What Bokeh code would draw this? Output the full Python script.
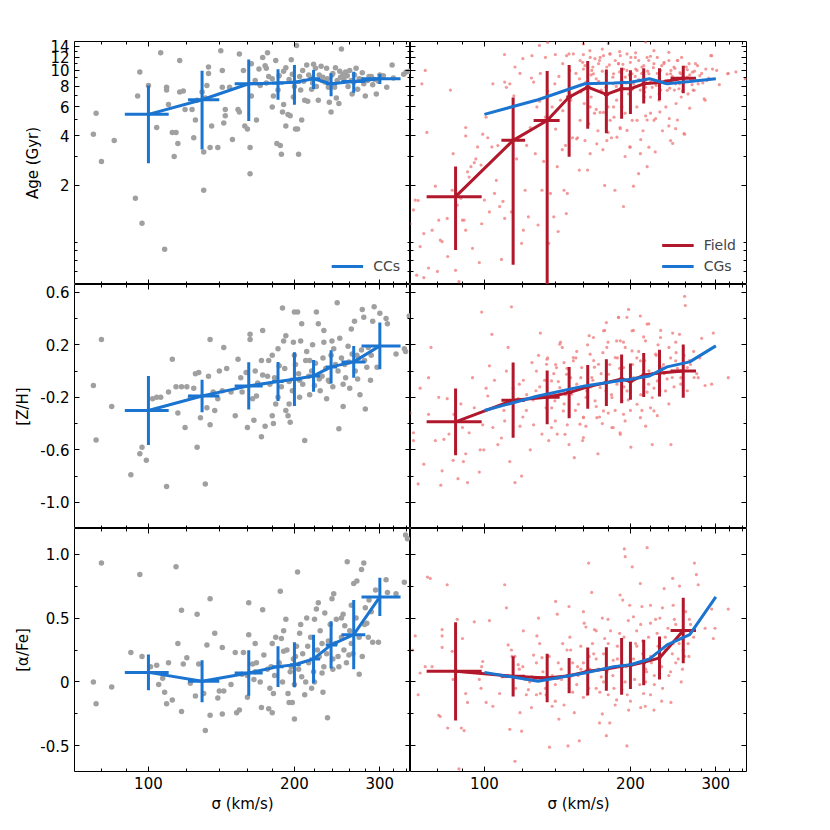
from bokeh.plotting import figure
from bokeh.models import (Range1d, FixedTicker, CustomJSTickFormatter, LinearAxis, LogAxis)
from bokeh.layouts import column, row
from bokeh.embed import file_html
from bokeh.resources import INLINE

FONT = "DejaVu Sans"
BLUE = "#1a74d0"
RED = "#b2182b"
GREY = "#a0a0a0"
PINK = "#f08080"

# ---------------- axes / ticks ----------------
X_RANGE = (70.4, 347)
X_MAJOR = [100, 200, 300]
X_MINOR = [80, 90, 120, 140, 160, 180, 220, 240, 260, 280, 320, 340]
AGE_RANGE = (0.5, 15)
AGE_MAJOR = [2, 4, 6, 8, 10, 12, 14]
AGE_MINOR = [0.6, 0.7, 0.8, 0.9, 3, 5, 7, 9, 11, 13]
ZH_RANGE = (-1.2, 0.66)
ZH_MAJOR = [-1.0, -0.6, -0.2, 0.2, 0.6]
ZH_MINOR = [-0.8, -0.4, 0.0, 0.4]
AF_RANGE = (-0.7, 1.2)
AF_MAJOR = [-0.5, 0.0, 0.5, 1.0]
AF_MINOR = [-0.25, 0.25, 0.75]

# ---------------- binned means: CCs / CGs ----------------
cc_sig = [100, 129, 161, 185, 200, 219, 238, 265, 300]
cc_sig_lo = [89.4, 120.7, 150.6, 180, 196, 215, 232, 250, 275]
cc_sig_hi = [110.1, 140, 172, 190, 206, 226, 245, 280, 331]
cc_age = [5.41, 6.64, 8.3, 8.4, 8.49, 8.9, 8.3, 8.57, 8.9]
cc_age_err = [2.68, 3.33, 3.37, 1.76, 2.3, 1.18, 1.33, 1.24, 0.63]
cc_zh = [-0.30, -0.19, -0.113, -0.08, -0.062, -0.037, 0.032, 0.07, 0.192]
cc_zh_err = [0.263, 0.124, 0.18, 0.149, 0.205, 0.121, 0.127, 0.121, 0.178]
cc_af = [0.075, 0.005, 0.07, 0.12, 0.135, 0.18, 0.29, 0.37, 0.665]
cc_af_err = [0.14, 0.164, 0.178, 0.16, 0.176, 0.19, 0.185, 0.27, 0.15]

# ---------------- binned means: Field ----------------
fd_sig = [87.2, 114.6, 134.7, 149.5, 163.3, 178.4, 191.8, 200, 213, 229.6, 257]
fd_sig_lo = [76, 108.4, 126.3, 147.5, 161.3, 176.4, 189.8, 198, 211, 227.5, 242]
fd_sig_hi = [98.7, 121.3, 142.9, 151.5, 165.3, 180.4, 193.8, 202, 215, 231.5, 273]
fd_age = [1.71, 3.76, 4.97, 6.89, 7.92, 7.15, 7.74, 7.74, 8.3, 8.45, 8.98]
fd_age_err = [0.9, 3.1, 4.95, 3.9, 3.5, 3.0, 2.65, 2.3, 2.0, 1.86, 1.71]
fd_zh = [-0.387, -0.222, -0.2, -0.164, -0.12, -0.088, -0.06, -0.08, -0.03, -0.015, 0.0]
fd_zh_err = [0.254, 0.287, 0.205, 0.196, 0.167, 0.179, 0.186, 0.138, 0.168, 0.178, 0.203]
fd_af = [0.083, 0.044, 0.031, 0.049, 0.083, 0.102, 0.122, 0.13, 0.153, 0.188, 0.403]
fd_af_err = [0.384, 0.158, 0.19, 0.138, 0.186, 0.17, 0.222, 0.185, 0.178, 0.168, 0.256]

# ---------------- individual galaxies: CCs (sigma, value) ----------------
cc_age_pts = [
    (77, 4.1), (78, 5.5), (80, 2.8), (85, 3.75), (94, 1.67), (97, 1.18), (96, 9.8), (95, 7.0), (100, 8.1),
    (104, 4.5), (106, 12.8), (108, 0.82), (109, 7.9), (109, 7.6), (110, 6.2), (112, 4.2), (113, 3.0), (114, 4.2),
    (115, 3.6), (116, 11.5), (116, 7.4), (118, 7.5), (119, 5.8), (123, 5.8), (124, 3.9), (125, 5.0), (126, 6.6),
    (129, 7.4), (130, 3.2), (130, 1.87), (131, 6.8), (132, 8.1), (133, 9.6), (133, 10.5), (134, 3.4), (135, 4.6),
    (139, 3.4), (141, 13.2), (142, 10.0), (142, 7.9), (143, 4.8), (144, 5.8), (144, 5.3), (147, 7.9), (149, 3.8),
    (153, 5.8), (154, 12.6), (154, 5.6), (157, 10.0), (158, 4.6), (160, 4.4), (162, 3.4), (162, 2.36), (163, 11.0),
    (163, 7.0), (166, 8.7), (167, 5.0), (169, 10.2), (172, 12.0), (174, 10.7), (175, 10.3), (176, 12.8), (177, 9.2),
    (180, 6.0), (181, 7.0), (183, 11.5), (184, 3.6), (185, 7.6), (187, 3.5), (188, 3.1), (189, 5.6), (190, 6.2),
    (192, 4.6), (192, 10.4), (194, 5.4), (196, 5.3), (197, 11.6), (199, 6.9), (201, 4.4), (202, 14.2), (203, 4.4),
    (204, 3.1), (206, 7.6), (207, 5.0), (210, 6.6), (212, 10.8), (213, 6.5), (216, 9.0), (217, 7.7), (219, 10.9),
    (221, 10.3), (222, 8.0), (224, 6.6), (228, 8.7), (231, 8.5), (233, 10.3), (235, 7.9), (236, 6.4), (238, 5.6),
    (240, 9.6), (242, 7.9), (244, 6.8), (247, 6.3), (249, 9.1), (250, 13.5), (252, 9.5), (255, 9.8), (258, 8.0),
    (263, 7.2), (268, 10.3), (270, 7.7), (275, 8.8), (278, 8.3), (280, 7.0), (283, 8.7), (285, 9.2), (290, 8.2),
    (295, 7.2), (300, 9.4), (310, 7.9), (318, 10.8), (336, 9.5), (340, 9.8), (345, 9.9),
    (186, 9.3), (190, 9.9), (195, 8.8), (198, 9.5), (205, 9.2), (209, 8.6), (214, 9.4), (218, 8.4), (225, 9.4),
    (229, 9.1), (234, 8.9), (239, 9.4), (245, 8.7), (248, 9.9), (253, 8.9), (257, 9.3), (262, 8.7), (266, 9.4),
    (272, 8.9), (276, 9.7), (288, 9.2), (293, 8.8), (180, 8.9), (175, 8.4), (170, 8.1), (200, 8.0), (208, 10.0),
    (227, 10.6), (243, 10.4), (260, 10.0), (265, 8.5), (298, 8.6), (305, 9.3), (320, 9.0),
]
cc_zh_pts = [
    (77, -0.11), (80, 0.24), (78, -0.525), (84, -0.27), (92, -0.79), (96, -0.63), (97, -0.58), (99, -0.68),
    (102, -0.21), (104, -0.2), (106, -0.2), (109, -0.88), (110, -0.16), (112, 0.09), (114, -0.12), (115, -0.32),
    (117, -0.12), (119, -0.43), (120, -0.12), (122, -0.2), (124, -0.13), (125, -0.02), (126, -0.58), (127, -0.01),
    (128, -0.355), (131, -0.86), (132, -0.28), (133, -0.04), (134, 0.24), (134, -0.41), (136, -0.16), (137, -0.3),
    (139, -0.21), (140, 0.0), (142, -0.15), (143, 0.18), (145, 0.02), (148, -0.16), (151, -0.34), (153, 0.09),
    (155, -0.05), (156, -0.16), (159, -0.01), (160, -0.43), (162, 0.28), (162, 0.24), (164, -0.21), (165, -0.375),
    (166, 0.0), (167, -0.19), (171, 0.08), (171, -0.5), (172, 0.31), (174, -0.42), (176, -0.04), (177, 0.08),
    (180, -0.34), (181, -0.4), (183, -0.25), (185, 0.17), (186, 0.04), (189, 0.48), (190, 0.23), (192, 0.27),
    (192, -0.3), (194, -0.34), (196, -0.39), (199, 0.22), (200, 0.45), (203, 0.45), (205, -0.07), (206, 0.23),
    (207, 0.36), (210, -0.53), (212, 0.15), (215, 0.08), (220, -0.11), (222, 0.45), (224, 0.36), (228, -0.04),
    (230, 0.31), (233, -0.21), (235, -0.07), (239, 0.23), (241, 0.17), (245, 0.52), (247, -0.44), (252, -0.27),
    (254, 0.05), (258, 0.19), (260, -0.13), (262, 0.32), (266, 0.38), (269, 0.12), (273, -0.18), (276, 0.47),
    (278, 0.41), (280, -0.29), (282, 0.03), (287, -0.07), (290, 0.38), (292, 0.49), (296, 0.03), (300, 0.44),
    (309, 0.4), (311, 0.36), (324, 0.13), (337, 0.17), (339, 0.15), (345, 0.42),
    (182, -0.05), (188, -0.12), (191, 0.02), (195, -0.08), (198, -0.15), (201, 0.05), (204, -0.02), (208, -0.1),
    (211, 0.08), (214, -0.04), (217, 0.0), (221, 0.06), (225, -0.06), (229, 0.1), (232, 0.02), (236, -0.08),
    (238, 0.12), (243, 0.05), (246, 0.0), (250, 0.1), (255, -0.05), (259, 0.07), (263, 0.13), (267, 0.0),
    (271, 0.1), (275, 0.16), (279, 0.08), (284, 0.18), (288, 0.12), (178, -0.1), (172, -0.03), (168, -0.09),
    (185, -0.2), (195, -0.25), (205, -0.2), (215, -0.18), (226, -0.15), (240, -0.12), (252, -0.1), (270, -0.06),
    (180, 0.12), (200, 0.12), (218, 0.2), (230, 0.22), (248, 0.25),
]
cc_af_pts = [
    (77, 0.0), (78, -0.17), (80, 0.93), (84, -0.04), (92, 0.23), (96, 0.84), (97, 0.2), (101, 0.12), (104, 0.13),
    (105, -0.02), (107, 0.03), (108, -0.08), (109, -0.17), (110, 0.15), (112, -0.14), (114, 0.9), (115, 0.3),
    (117, -0.23), (117, 0.56), (118, 0.14), (120, 0.19), (122, -0.01), (125, -0.11), (126, 0.53), (127, 0.14),
    (130, -0.09), (131, -0.38), (132, 0.29), (134, -0.26), (134, 0.65), (137, 0.38), (139, -0.125), (140, -0.07),
    (142, -0.25), (142, 0.27), (143, -0.07), (148, -0.02), (151, 0.23), (152, -0.24), (154, -0.22), (156, 0.06),
    (157, 0.23), (160, -0.12), (161, 0.62), (161, 0.37), (164, 0.14), (165, 0.02), (166, 0.3), (167, 0.15),
    (171, -0.2), (172, 0.565), (173, 0.21), (177, -0.21), (179, 0.12), (180, -0.24), (181, -0.09), (183, 0.35),
    (187, 0.71), (188, 0.34), (190, 0.24), (192, 0.49), (194, -0.09), (195, -0.16), (197, 0.12), (198, -0.16),
    (200, -0.29), (201, 0.2), (203, 0.86), (205, 0.38), (207, 0.04), (210, -0.1), (212, 0.5), (213, 0.28),
    (217, -0.05), (220, 0.49), (222, 0.57), (224, 0.62), (225, 0.2), (228, 0.07), (229, -0.08), (231, 0.54),
    (234, -0.28), (235, 0.32), (239, 0.65), (241, 0.69), (244, 0.49), (247, 0.12), (252, 0.53), (254, 0.44),
    (257, 0.94), (259, 0.21), (262, 0.3), (265, 0.77), (269, 0.79), (272, 0.06), (275, 0.88), (278, 0.93),
    (280, 0.58), (282, 0.46), (285, 0.64), (290, 0.31), (294, 0.72), (298, 0.31), (309, 0.8), (311, 0.7),
    (324, 0.69), (337, 0.78), (339, 1.15), (342, 1.12),
    (182, 0.05), (186, 0.15), (189, 0.0), (193, 0.25), (196, 0.08), (199, 0.18), (202, 0.28), (204, 0.1),
    (208, 0.22), (211, 0.0), (214, 0.15), (216, 0.35), (219, 0.08), (223, 0.25), (226, 0.4), (230, 0.12),
    (233, 0.22), (237, 0.45), (240, 0.18), (243, 0.3), (246, 0.2), (250, 0.35), (253, 0.25), (256, 0.15),
    (260, 0.4), (264, 0.22), (268, 0.5), (272, 0.35), (276, 0.2), (279, 0.45), (284, 0.35), (288, 0.55),
    (176, 0.1), (170, 0.0), (166, 0.08), (160, 0.05), (180, 0.3), (190, 0.4), (206, 0.45), (228, 0.3),
    (250, 0.5), (262, 0.6), (178, -0.05), (200, -0.02), (220, 0.0), (240, 0.1),
]

# ---------------- individual galaxies: Field (sigma, value) ----------------
fd_age_pts = [
    (70.3, 1.17), (71.4, 1.42), (72, 1.63), (73, 1.62), (73.7, 0.85), (74.3, 8.3), (75, 1.02), (75.5, 10.0),
    (76.1, 4.2), (76.7, 0.63), (78, 1.07), (79.2, 1.98), (80.5, 1.23), (81.1, 0.93), (81.8, 0.91), (83.8, 1.26),
    (84, 0.74), (85.1, 7.6), (85.8, 1.87), (86.2, 3.12), (87.2, 0.61), (87.9, 1.52), (88.6, 0.52), (89.4, 1.67),
    (90.1, 1.23), (90.8, 1.23), (91.5, 4.5), (91.5, 4.0), (91.5, 1.07), (92.3, 2.42), (93, 2.25), (93.8, 2.6),
    (94.5, 0.83), (95.3, 2.75), (96, 2.9), (96.8, 3.43), (97.6, 0.68), (98.4, 2.66), (98.7, 1.17), (99.2, 4.1),
    (100, 1.63), (72.5, 0.57), (75, 0.55), (80, 0.6),
    (100.8, 5.2), (101.6, 3.9), (102.4, 1.38), (103.6, 3.43), (104.1, 8.3), (104.9, 1.79), (105.8, 2.15),
    (106.6, 3.5), (107.5, 1.49), (108.4, 0.71), (109.2, 1.6), (110.1, 1.26), (110.1, 8.5), (111, 7.9),
    (111.9, 3.5), (112.8, 8.3), (113.7, 1.38), (115.6, 10.5), (116.5, 2.9), (117.4, 3.76), (118.4, 9.6),
    (119.3, 0.89), (120.3, 1.07), (121.3, 1.87), (122.2, 3.5), (123.2, 1.29), (124.3, 4.5), (125.3, 12.3),
    (126.3, 8.5), (127.3, 3.12), (128.3, 6.0), (129, 1.15), (129.8, 14.2), (130.4, 9.6), (131.4, 1.87),
    (132.5, 2.8), (133.6, 12.0), (133.6, 5.2), (135.7, 0.89), (136.8, 1.79), (137.9, 6.0), (139, 1.29),
    (139.7, 8.3), (140.2, 4.4), (141.3, 2.6), (141.9, 1.05), (142.4, 9.2), (143.5, 6.6), (144.7, 3.3),
    (145.1, 5.7), (145.9, 1.87), (147, 3.5), (147.5, 1.35), (148.2, 1.79), (149.4, 12.6), (150.6, 6.6),
    (151.9, 3.9),
    (154.4, 9.6), (155.6, 3.9), (156.9, 2.48), (158.1, 7.4), (159.4, 11.2), (160.6, 6.3), (161.9, 8.5),
    (163.2, 2.48), (164, 4.75), (165, 13.2), (166, 6.9), (167.3, 10.5), (168.6, 5.5), (170, 8.9), (171.4, 4.3),
    (172.7, 11.5), (174.1, 7.6), (175.5, 3.3), (177, 2.0), (178.4, 9.6), (179.8, 6.0), (181.3, 12.6),
    (182.8, 3.9), (184.3, 8.3), (185.8, 1.87), (187.3, 6.6), (188.9, 11.0), (190.4, 4.5), (192, 8.7),
    (193.5, 1.49), (195.1, 5.5), (196.7, 10.0), (198.3, 7.2), (199.3, 3.43), (200.4, 12.0), (201.7, 4.98),
    (202.9, 1.98), (204.6, 9.2), (206.2, 6.0), (207.9, 2.36), (209.6, 7.6), (211.2, 10.5), (212.3, 4.3),
    (213.6, 6.9), (215, 8.7), (216.5, 2.6), (218.2, 11.5), (220, 5.5), (221.8, 7.9), (223.6, 13.2),
    (225.4, 5.1), (227.2, 9.6), (229, 6.6), (230.9, 7.6), (232.8, 4.3), (234.7, 11.2), (236.6, 6.0),
    (238.5, 8.7), (240.5, 5.1), (242.4, 10.0), (244.4, 3.6), (246.4, 7.6), (248.4, 6.3), (250.4, 11.5),
    (252.5, 8.3), (254.5, 6.9), (256.6, 9.2), (258.7, 4.1), (260.8, 10.5), (262.9, 7.2), (266.3, 8.9),
    (269.3, 7.6), (272.4, 11.0), (275.9, 8.3), (280.5, 9.6), (285.1, 6.6), (287.5, 8.7), (294.1, 12.3),
    (301.2, 10.0), (318.2, 9.6),
    (157, 8.9), (160, 10.2), (163, 7.8), (166, 9.4), (169, 11.8), (172, 8.6), (175, 9.9), (178, 7.9),
    (181, 10.8), (184, 9.1), (187, 8.0), (190, 9.8), (193, 10.9), (196, 8.4), (199, 9.4), (202, 7.7),
    (205, 10.2), (208, 8.8), (211, 9.6), (214, 7.4), (217, 9.9), (220, 8.5), (223, 10.4), (226, 8.1),
    (229, 9.1), (232, 10.7), (235, 8.4), (238, 9.5), (241, 7.8), (244, 9.2), (247, 10.3), (250, 8.8),
    (253, 9.7), (256, 7.5), (259, 8.9), (262, 10.1), (265, 9.4), (268, 8.2), (271, 9.9), (274, 8.7),
    (278, 9.3), (282, 8.4), (286, 10.2), (290, 9.0), (160, 12.5), (175, 13.5), (190, 13.0), (205, 12.8),
    (220, 12.2), (240, 12.9), (255, 12.0), (170, 5.8), (185, 5.2), (200, 5.9), (215, 5.3), (230, 5.6),
    (250, 5.0), (265, 5.9), (180, 4.2), (210, 3.8), (240, 4.6), (225, 3.2), (195, 3.0), (150, 10.0),
    (145, 11.0), (140, 12.5), (135, 7.5), (130, 6.5), (125, 9.0), (120, 11.8), (115, 7.0), (110, 12.5),
    (150, 7.2), (305, 8.2), (330, 9.8), (345, 8.9), (135, 14.8), (180, 14.6), (215, 14.9), (160, 14.5),
]
fd_age_pts_dense = [
    (147.7, 12.3), (152.5, 12.6), (157.5, 11.5), (161.2, 10.7), (165.2, 12.0), (166.5, 10.0), (167.8, 9.55),
    (171.9, 11.0), (173.2, 12.0), (176, 12.3), (178.8, 10.5), (181.7, 12.6), (184.6, 9.55), (186.1, 11.5),
    (189.1, 11.0), (190.6, 12.3), (193.6, 10.2), (195.2, 9.1), (196.8, 12.6), (199.9, 11.2), (201.5, 9.55),
    (203.1, 8.3), (204.7, 12.0), (206.4, 10.0), (208, 11.5), (209.7, 8.69), (213.1, 10.7), (214.8, 7.92),
    (216.5, 12.0), (218.3, 9.55), (220, 6.89), (223.6, 11.0), (225.4, 8.3), (227.2, 12.0), (229, 7.22),
    (230.7, 10.0), (234.4, 11.0), (236.3, 8.69), (238.2, 7.57), (240.1, 11.5), (242, 9.55), (245.9, 10.5),
    (247.9, 8.3), (249.8, 11.5), (251.8, 7.74), (253.9, 9.55), (257.9, 10.5), (262.1, 9.1), (264.2, 11.0),
    (268.5, 9.76), (270.6, 7.57), (275, 10.7), (283.8, 6.73), (292.9, 12.3), (295.3, 10.2), (317.3, 9.55),
    (157.5, 4.98), (165.2, 6.0), (173.2, 5.56), (181.7, 4.98), (190.6, 4.43), (196.8, 4.32), (206.4, 4.98),
    (216.5, 5.0), (223.6, 4.98), (170.5, 3.58), (178.8, 3.75), (187.6, 3.93), (199.9, 3.42), (209.7, 3.12),
    (218.3, 3.42), (242, 3.75), (247.9, 4.43), (257.9, 4.13), (154.9, 3.84), (161.2, 3.75), (165.2, 3.12),
    (176, 5.56), (184.6, 6.0), (192.1, 6.0),
]
fd_zh_pts = [
    (70.3, -0.32), (71.4, -0.47), (71.4, -0.53), (73, -0.86), (73.7, -0.13), (75, -0.71), (76.7, -0.05),
    (76.7, -0.33), (77.6, 0.18), (79.2, -0.53), (80.5, -0.2), (81.3, -0.87), (81.8, -0.76), (82.5, -0.52),
    (83.8, -0.21), (84.5, -0.48), (86.2, -0.68), (86.5, -0.33), (88.2, -0.82), (89.4, -0.25), (90.1, -0.43),
    (90.5, -0.69), (91.5, -0.63), (92.3, -0.85), (93, -0.47), (94.5, -0.05), (95.3, -0.28), (97.6, -0.77),
    (98, -0.6), (98.7, 0.45), (99.2, -0.41), (99.7, -0.6),
    (100.8, -0.13), (101.6, -0.19), (102.4, 0.04), (103.6, 0.28), (104.1, -0.43), (104.9, -0.07),
    (106.6, -0.56), (108.4, -0.51), (109.7, -0.3), (110.1, -0.38), (111, 0.0), (111.9, 0.18), (112.8, -0.69),
    (113.7, 0.49), (114.6, -0.13), (115.6, -0.85), (117.4, -0.21), (118.4, -0.42), (119.3, -0.8),
    (120.3, -0.07), (122.2, -0.18), (124.3, -0.6), (125.3, 0.065), (126.3, -0.41), (127.7, -0.15),
    (129.3, 0.12), (130.4, 0.29), (131.4, -0.48), (133.1, -0.07), (134.6, 0.09), (135.7, -0.53),
    (137.6, -0.28), (139, -0.02), (140.2, 0.05), (141.3, -0.48), (143.5, 0.22), (144.7, 0.18), (145.9, 0.065),
    (147, -0.18), (148.2, -0.41), (149.4, -0.56), (150.6, -0.05), (153.2, -0.66), (154.4, 0.1), (156.9, -0.13),
    (159.4, -0.53), (161.9, -0.42), (163.2, 0.2), (164.4, 0.27), (167.3, -0.07), (168.6, 0.03), (171.4, -0.63),
    (172.7, -0.35), (175.5, 0.14), (177, 0.31), (178.4, 0.37), (179.8, 0.22), (181.3, 0.05), (182.8, -0.18),
    (184.3, -0.43), (187.3, 0.23), (188.9, 0.41), (190.4, -0.47), (193.5, 0.22), (195.1, 0.18), (196.7, 0.41),
    (198.3, 0.47), (200.4, -0.58), (202.9, 0.31), (206.2, 0.1), (209.6, 0.42), (211.2, -0.3), (212.9, 0.26),
    (216.5, -0.16), (218.2, 0.36), (221.8, -0.56), (223.6, -0.13), (227.2, -0.34), (230.9, 0.31),
    (234.7, -0.02), (242.4, -0.56), (244.4, 0.29), (248.4, 0.14), (252.5, 0.28), (258.7, 0.57), (259.5, 0.5),
    (264.6, 0.08), (275.9, -0.05), (280.5, 0.25), (285.1, -0.11), (294.1, -0.1), (296.4, 0.29), (318.2, -0.05),
    (112, -0.25), (118, -0.1), (122, -0.3), (126, -0.22), (130, -0.12), (134, -0.28), (138, -0.18), (142, -0.08),
    (146, -0.25), (150, -0.15), (154, -0.3), (158, -0.05), (162, -0.2), (166, -0.12), (170, -0.27), (174, -0.02),
    (178, -0.15), (182, -0.08), (186, -0.3), (190, 0.02), (194, -0.12), (198, -0.22), (202, 0.05), (206, -0.05),
    (210, -0.18), (214, 0.08), (218, -0.1), (222, -0.02), (226, 0.12), (230, -0.15), (234, 0.05), (238, -0.06),
    (242, 0.1), (246, -0.12), (250, 0.02), (254, -0.05), (258, 0.12), (262, -0.15), (266, 0.05), (270, 0.15),
    (274, -0.02), (278, 0.1), (120, -0.35), (140, -0.38), (160, -0.35), (180, -0.32), (200, -0.3), (220, -0.28),
    (240, -0.25), (128, 0.0), (148, 0.02), (168, 0.08), (188, 0.1), (208, 0.15), (228, 0.2), (248, 0.22),
    (175, -0.4), (195, -0.38), (215, -0.42), (155, 0.15), (135, 0.1),
]
fd_zh_pts_dense = [
    (134.3, 0.052), (137.5, -0.075), (139.7, -0.227), (140.8, 0.027), (143, -0.126), (145.4, -0.304),
    (147.7, -0.024), (151.3, -0.176), (152.5, 0.078), (155, -0.1), (156.2, -0.253), (158.7, 0.027),
    (160, -0.355), (162.5, -0.151), (165.2, 0.129), (166.5, -0.049), (169.1, -0.227), (171.9, 0.052),
    (173.2, -0.126), (176, -0.304), (178.8, 0.18), (180.3, -0.024), (183.2, -0.202), (186.1, 0.103),
    (187.6, -0.1), (190.6, 0.231), (192.1, -0.227), (193.6, 0.027), (196.8, -0.151), (201.5, 0.154),
    (203.1, -0.049), (206.4, -0.253), (209.7, 0.078), (213.1, -0.126), (214.8, 0.231), (218.3, 0.002),
    (221.8, -0.202), (225.4, 0.129), (227.2, -0.075), (232.6, 0.027), (236.3, -0.151), (240.1, 0.18),
    (243.9, -0.049), (247.9, 0.078), (253.9, -0.1), (262.1, 0.027), (270.6, -0.049), (137.5, -0.431),
    (146.6, -0.482), (157.4, -0.405), (170.5, -0.355), (183.2, -0.431), (193.6, -0.329), (209.7, -0.355),
    (223.6, -0.304), (160, -0.507), (190.6, -0.482), (201.5, 0.307), (216.5, 0.358), (189.1, 0.409),
    (176, 0.307), (167.8, 0.256), (143, 0.205), (152.5, 0.103), (230.7, 0.256),
]
fd_af_pts = [
    (71.1, 0.25), (72, 0.36), (73, -0.1), (73.7, 0.07), (75.5, 0.12), (76.3, 0.82), (77.3, 0.81), (78, 0.12),
    (80.5, -0.26), (81.1, -0.27), (81.8, 0.41), (81.8, 0.36), (81.8, 0.27), (83.8, 0.76), (84, -0.36),
    (85.8, 0.24), (86.2, 0.02), (87.9, 0.49), (88.6, -0.68), (89.6, -0.36), (90.1, 0.34), (90.8, -0.38),
    (91.5, -0.09), (92.3, -0.16), (95.3, 0.47), (97.6, 0.02), (98.4, -0.05), (98.7, 0.12), (99.2, 0.16),
    (100.8, -0.16), (102.4, 0.48), (104.1, -0.19), (105.8, 0.06), (107.5, -0.09), (108.7, 0.04), (110.1, 0.76),
    (111, 0.58), (111.9, 0.29), (112.8, -0.37), (113.7, 0.25), (115.6, 0.2), (117.4, 0.135), (118.4, -0.24),
    (119.3, -0.385), (120.3, 0.4), (121.3, 0.02), (123.2, -0.06), (125.3, 0.04), (126.3, 0.21), (128.3, 0.36),
    (129.3, 0.5), (130.4, -0.09), (131.4, 0.19), (133.6, -0.05), (136.2, -0.51), (137.9, -0.19), (140.2, 0.63),
    (141.3, 0.53), (142.4, -0.29), (144.2, 0.02), (145.9, -0.18), (148.7, -0.5), (149.4, 0.59), (150.6, 0.25),
    (153.2, -0.24), (155.6, 0.12), (156.9, -0.46), (158.1, 0.1), (160.6, 0.46), (161.9, 0.43), (164, 0.93),
    (164.4, 0.2), (166.4, 0.7), (168.6, 0.41), (170, -0.05), (172.7, -0.32), (174.1, 0.04), (177, 0.34),
    (178.4, -0.42), (179.8, 0.49), (181.3, -0.32), (184.3, 0.17), (187.3, -0.14), (190.4, 0.68), (192.8, 0.64),
    (194.3, 1.04), (195.1, 0.98), (196.7, -0.5), (198.3, -0.22), (199.3, 0.6), (201.7, 0.9), (202.9, 0.51),
    (206.2, 0.28), (209.6, 0.77), (211.2, 0.59), (212.9, -0.09), (214.6, -0.19), (216.5, 1.05), (220, 0.46),
    (223.6, -0.22), (225.4, 0.49), (232.8, 0.58), (234.7, 0.73), (242.4, -0.16), (244.4, 0.81), (246.4, 0.49),
    (252.5, 0.75), (254.5, 0.0), (258.7, 0.2), (264.6, 0.49), (271, 0.93), (273.5, 0.84), (275.9, 0.76),
    (285.1, 0.42), (294.1, 0.57), (296.4, 0.34), (298.8, 0.42), (318.2, 0.57), (115.6, -0.62),
    (112, 0.05), (116, -0.05), (120, 0.12), (124, 0.0), (128, -0.1), (132, 0.08), (136, 0.2), (140, -0.02),
    (144, 0.1), (148, 0.25), (152, -0.08), (156, 0.05), (160, 0.15), (164, -0.05), (168, 0.22), (172, 0.1),
    (176, 0.0), (180, 0.3), (184, 0.05), (188, 0.18), (192, -0.06), (196, 0.12), (200, 0.25), (204, 0.02),
    (208, 0.15), (212, 0.32), (216, 0.08), (220, 0.2), (224, -0.02), (228, 0.28), (232, 0.12), (236, 0.35),
    (240, 0.05), (244, 0.22), (248, 0.15), (252, 0.3), (256, 0.1), (260, 0.4), (264, 0.2), (150, 0.35),
    (170, 0.4), (190, 0.38), (210, 0.45), (230, 0.5), (130, 0.3), (140, -0.15), (160, -0.12), (180, -0.1),
    (200, -0.15), (220, -0.1), (125, -0.2), (175, -0.25), (195, 0.0), (215, 0.0), (185, 0.12), (205, 0.3),
    (165, 0.1),
]
fd_af_pts_dense = [
    (152, 0.15), (155, -0.02), (158, 0.28), (161, 0.08), (163, -0.1), (167, 0.3), (170, 0.18), (173, -0.08),
    (176, 0.22), (179, 0.08), (182, 0.4), (185, -0.05), (188, 0.28), (191, 0.12), (194, 0.35), (197, -0.1),
    (200, 0.05), (203, 0.18), (206, 0.4), (209, -0.02), (212, 0.22), (215, 0.1), (218, 0.35), (221, 0.15),
    (224, 0.05), (227, 0.38), (230, 0.2), (233, -0.05), (236, 0.25), (239, 0.42), (242, 0.08), (245, 0.3),
    (248, 0.45), (251, 0.18), (254, 0.38), (257, 0.25), (260, 0.55), (263, 0.3), (266, 0.45), (270, 0.35),
    (145, 0.3), (142, 0.15), (138, 0.05), (134, -0.1), (128, 0.15), (122, -0.1), (118, 0.1), (114, 0.2),
    (186, -0.18), (210, -0.2), (232, -0.15), (198, 0.48), (175, 0.5), (160, 0.55), (220, 0.6), (245, 0.6),
]

FMT_INT = CustomJSTickFormatter(code="return tick.toFixed(0);")
FMT_1 = CustomJSTickFormatter(code="return tick.toFixed(1);")
FMT_AF = CustomJSTickFormatter(code="return Math.abs(tick) < 1e-9 ? '0' : tick.toFixed(1);")

PANELS = {
    "age": dict(rng=AGE_RANGE, log=True, major=AGE_MAJOR, minor=AGE_MINOR, fmt=FMT_INT, label="Age (Gyr)"),
    "zh": dict(rng=ZH_RANGE, log=False, major=ZH_MAJOR, minor=ZH_MINOR, fmt=FMT_1, label="[Z/H]"),
    "af": dict(rng=AF_RANGE, log=False, major=AF_MAJOR, minor=AF_MINOR, fmt=FMT_AF, label="[α/Fe]"),
}
FRAME_H = [243, 244, 243]


def style_axis(ax, labels):
    ax.axis_line_color = None
    ax.major_tick_in = 5
    ax.major_tick_out = 0
    ax.minor_tick_in = 3
    ax.minor_tick_out = 0
    ax.major_tick_line_color = "black"
    ax.minor_tick_line_color = "black"
    if labels:
        ax.major_label_text_font = FONT
        ax.major_label_text_font_size = "15px"
        ax.major_label_text_color = "black"
        ax.major_label_standoff = 5
        ax.axis_label_text_font = FONT
        ax.axis_label_text_font_size = "15px"
        ax.axis_label_text_font_style = "normal"
        ax.axis_label_text_color = "black"
        ax.axis_label_standoff = 5
    else:
        ax.major_label_text_font_size = "0px"
        ax.major_label_text_color = None
        ax.major_label_standoff = 0
        ax.axis_label = None


def make_panel(kind, col, r):
    cfg = PANELS[kind]
    p = figure(frame_width=336, frame_height=FRAME_H[r],
               x_axis_type="log", y_axis_type="log" if cfg["log"] else "linear",
               x_range=Range1d(*X_RANGE), y_range=Range1d(*cfg["rng"]),
               output_backend="svg", toolbar_location=None,
               min_border_left=74 if col == 0 else 0,
               min_border_right=0 if col == 0 else 10,
               min_border_top=41 if r == 0 else 0,
               min_border_bottom=50 if r == 2 else 0,
               background_fill_color="white", border_fill_color="white")
    p.outline_line_color = "black"
    p.outline_line_width = 1
    p.xgrid.grid_line_color = None
    p.ygrid.grid_line_color = None

    xb = p.xaxis[0]
    xb.ticker = FixedTicker(ticks=X_MAJOR, minor_ticks=X_MINOR)
    xb.formatter = FMT_INT
    style_axis(xb, r == 2)
    if r == 2:
        xb.axis_label = "σ (km/s)"
        xb.axis_label_standoff = 3

    yl = p.yaxis[0]
    yl.ticker = FixedTicker(ticks=cfg["major"], minor_ticks=cfg["minor"])
    yl.formatter = cfg["fmt"]
    style_axis(yl, col == 0)
    if col == 0:
        yl.axis_label = cfg["label"]

    top = LogAxis(ticker=FixedTicker(ticks=X_MAJOR, minor_ticks=X_MINOR))
    style_axis(top, False)
    p.add_layout(top, "above")
    yr_cls = LogAxis if cfg["log"] else LinearAxis
    right = yr_cls(ticker=FixedTicker(ticks=cfg["major"], minor_ticks=cfg["minor"]))
    style_axis(right, False)
    p.add_layout(right, "right")
    return p


def errorbars(p, xs, lo, hi, ys, err, color):
    p.segment(x0=lo, y0=ys, x1=hi, y1=ys, line_color=color, line_width=3)
    p.segment(x0=xs, y0=[y - e for y, e in zip(ys, err)], x1=xs,
              y1=[y + e for y, e in zip(ys, err)], line_color=color, line_width=3)


cc_data = {"age": (cc_age_pts, cc_age, cc_age_err), "zh": (cc_zh_pts, cc_zh, cc_zh_err),
           "af": (cc_af_pts, cc_af, cc_af_err)}
fd_data = {"age": (fd_age_pts + fd_age_pts_dense, fd_age, fd_age_err),
           "zh": (fd_zh_pts + fd_zh_pts_dense, fd_zh, fd_zh_err),
           "af": (fd_af_pts + fd_af_pts_dense, fd_af, fd_af_err)}

rows = []
for r, kind in enumerate(["age", "zh", "af"]):
    # left: cluster galaxies
    pl = make_panel(kind, 0, r)
    pts, mean, err = cc_data[kind]
    pl.scatter([a for a, b in pts], [b for a, b in pts], size=5.5, fill_color=GREY, line_color=None)
    if r == 0:
        pl.line(cc_sig, mean, line_color=BLUE, line_width=3, legend_label="CCs")
    else:
        pl.line(cc_sig, mean, line_color=BLUE, line_width=3)
    errorbars(pl, cc_sig, cc_sig_lo, cc_sig_hi, mean, err, BLUE)

    # right: field galaxies
    pr = make_panel(kind, 1, r)
    pts, fmean, ferr = fd_data[kind]
    pr.scatter([a for a, b in pts], [b for a, b in pts], size=3.2, fill_color=PINK, fill_alpha=0.8,
               line_color=None)
    errorbars(pr, fd_sig, fd_sig_lo, fd_sig_hi, fmean, ferr, RED)
    if r == 0:
        pr.line(fd_sig, fmean, line_color=RED, line_width=3, legend_label="Field")
        pr.line(cc_sig, mean, line_color=BLUE, line_width=3, legend_label="CGs")
    else:
        pr.line(fd_sig, fmean, line_color=RED, line_width=3)
        pr.line(cc_sig, mean, line_color=BLUE, line_width=3)

    if r == 0:
        for p in (pl, pr):
            lg = p.legend[0]
            lg.location = "bottom_right"
            lg.border_line_color = None
            lg.background_fill_alpha = 0
            lg.label_text_font = FONT
            lg.label_text_font_size = "14px"
            lg.glyph_width = 32
            lg.glyph_height = 14
            lg.label_standoff = 10
            lg.spacing = 4
            lg.padding = 6
            lg.margin = 10
            lg.label_height = 17
    rows.append(row(pl, pr))

layout = column(*rows)
open("out.html", "w").write(file_html(layout, INLINE))
